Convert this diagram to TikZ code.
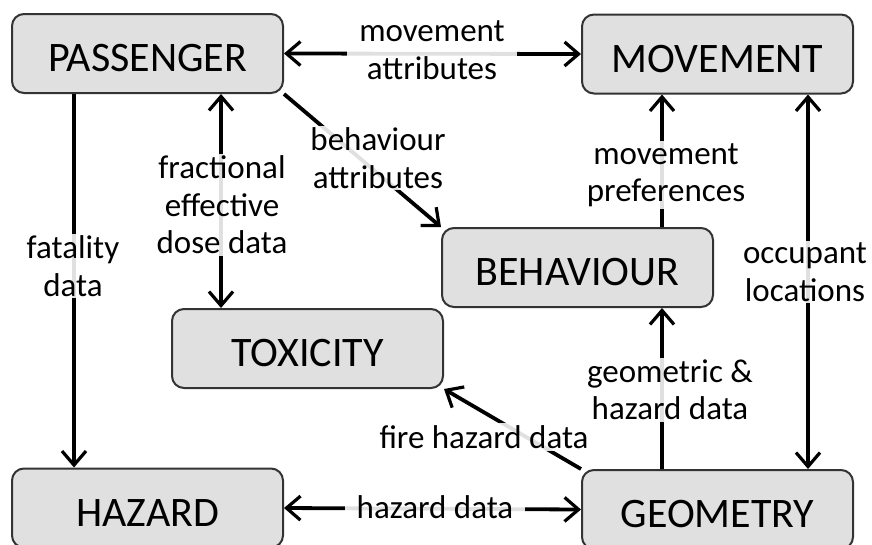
\documentclass[tikz,border=0pt]{standalone}
\usepackage{fontspec}
\setmainfont{Carlito}
\usetikzlibrary{arrows.meta}
\begin{document}
\begin{tikzpicture}[x=1pt,y=-1pt,
  box/.style={draw=black!80, line width=2pt, fill=black!12, rounded corners=12pt,
    minimum width=271pt, minimum height=79pt, inner sep=0pt,
    font=\fontsize{42}{46}\selectfont, text height=46pt, text depth=10pt},
  link/.style={line width=3.8pt, black},
  tip/.tip={Straight Barb[length=14pt,width=24pt,line width=3.2pt]},
  lbl/.style={fill=white, fill opacity=0.88, text opacity=1, inner xsep=12pt, inner ysep=2pt,
    align=center, font=\fontsize{33}{37.5}\selectfont}]
\useasboundingbox (0,0) rectangle (872,544);
\clip (0,0) rectangle (872,544);

% boxes
\node[box] (passenger) at (147.5,53.5) {PASSENGER};
\node[box] (movement)  at (717.5,54)   {MOVEMENT};
\node[box] (behaviour) at (577.5,267.5){BEHAVIOUR};
\node[box] (toxicity)  at (307.5,348.5){TOXICITY};
\node[box] (hazard)    at (147.5,508)  {HAZARD};
\node[box] (geometry)  at (717.5,509.5){GEOMETRY};

% connectors
\draw[link,tip-tip] (passenger.east) -- (movement.west);
\draw[link,-tip] ([xshift=63pt]passenger.south west) -- ([xshift=63pt]hazard.north west);
\draw[link,tip-tip] ([xshift=210pt]passenger.south west) -- ([xshift=50pt]toxicity.north west);
\draw[link,-tip] (passenger.south east) -- (behaviour.north west);
\draw[link,-tip] ([xshift=221pt]behaviour.north west) -- ([xshift=81pt]movement.south west);
\draw[link,-tip] ([xshift=81pt]geometry.north west) -- ([xshift=221pt]behaviour.south west);
\draw[link,tip-tip] ([xshift=-46pt]movement.south east) -- ([xshift=-46pt]geometry.north east);
\draw[link,-tip] (geometry.north west) -- (toxicity.south east);
\draw[link,tip-tip] (hazard.east) -- (geometry.west);

% labels
\node[lbl] (l1) at (432,50)  {movement\\attributes};
\node[lbl] (l2) at (378,158) {behaviour\\attributes};
\node[lbl] (l3) at (222,205) {fractional\\effective\\dose data};
\node[lbl] (l4) at (73,266)  {fatality\\data};
\node[lbl] (l5) at (666,175) {movement\\preferences};
\node[lbl] (l6) at (805,272) {occupant\\locations};
\node[lbl] (l7) at (670,390) {geometric \&\\hazard data};
\node[lbl] (l8) at (484,437) {fire hazard data};
\node[lbl] (l9) at (435,507) {hazard data};
\end{tikzpicture}
\end{document}
